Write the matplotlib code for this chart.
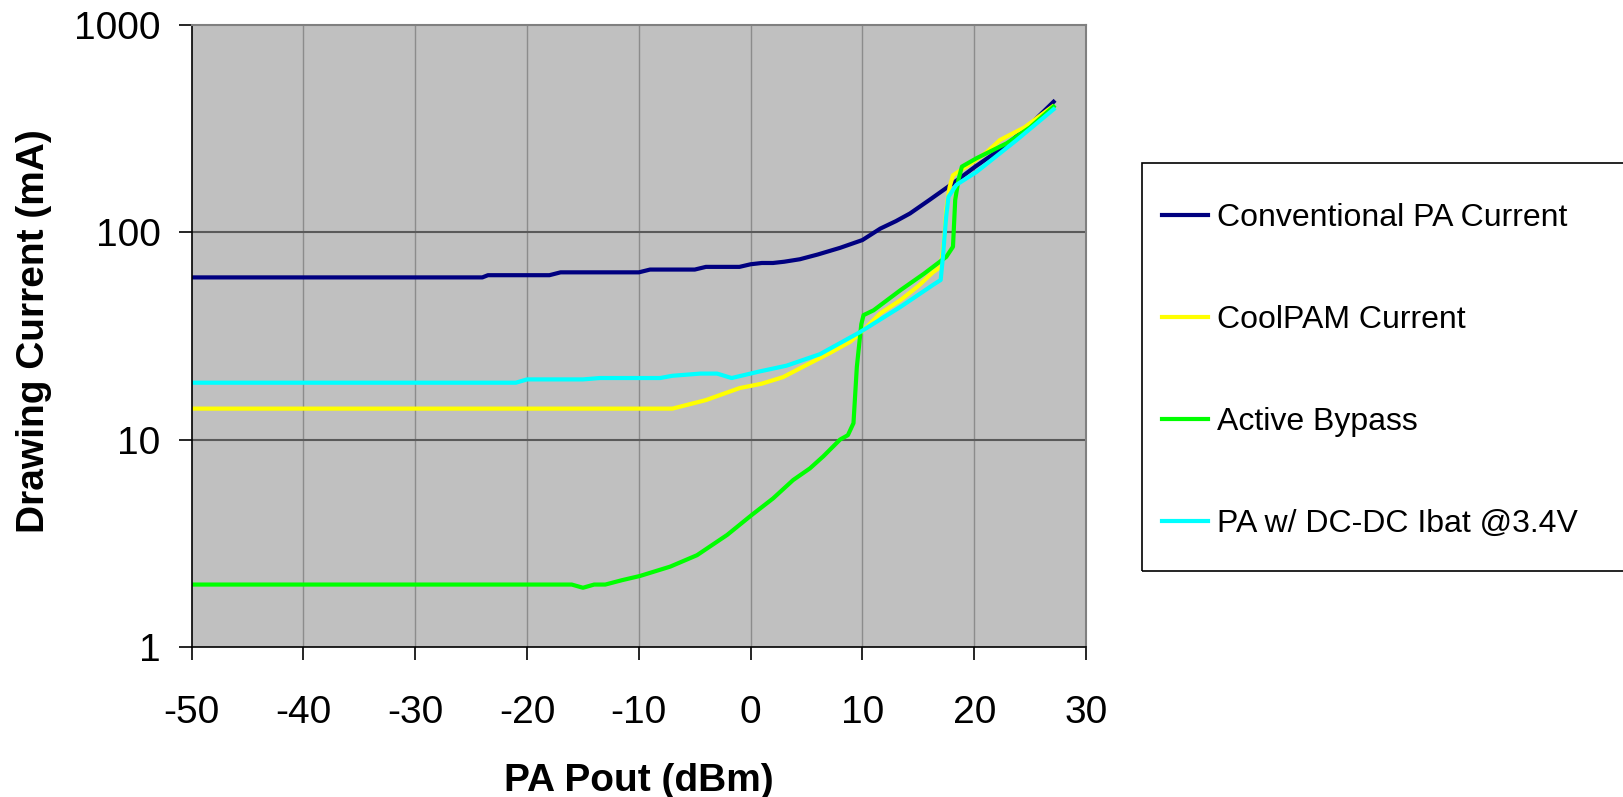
# PA drawing current vs output power

import matplotlib.pyplot as plt
from matplotlib.patches import Rectangle
from matplotlib.ticker import FixedLocator, NullLocator

plt.rcParams['font.family'] = ['Liberation Sans', 'DejaVu Sans']
plt.rcParams['axes.unicode_minus'] = False

conv_x = [-50, -24, -23.5, -18, -17, -10, -9, -5, -4, -1, 0, 1, 2, 3, 4.4, 6, 8, 10, 11.6, 13, 14.25, 16, 18.1, 20.1, 22.9, 25, 27.1]
conv_y = [60.5, 60.5, 62, 62, 64, 64, 66, 66, 68, 68, 70, 71, 71, 72, 74, 78, 84, 91.6, 104, 113, 123, 143, 172, 207, 263, 330, 425]

cool_x = [-50, -7, -4, -1, 1, 2.9, 5.0, 7, 8.9, 9.8, 11.6, 13.4, 15, 16.3, 17.0, 17.3, 17.5, 17.8, 18.1, 19.3, 21, 22.3, 24.5, 27.0]
cool_y = [14.1, 14.1, 15.5, 17.7, 18.6, 20, 22.9, 26, 29.6, 32.5, 40.6, 47, 55, 64, 68, 90, 128, 165, 188, 207, 240, 278, 320, 403]

bypass_x = [-50, -16, -15, -14, -13, -11.5, -9.9, -7.2, -4.8, -2.1, 0.1, 2, 3.8, 5.3, 6.5, 8.0, 8.7, 9.2, 9.5, 9.9, 10.1, 11.0, 13.4, 15.5, 17.5, 18.1, 18.3, 18.6, 18.9, 20.2, 22.9, 25, 27.1]
bypass_y = [2.0, 2.0, 1.93, 2.0, 2.0, 2.1, 2.2, 2.44, 2.77, 3.47, 4.33, 5.2, 6.38, 7.26, 8.3, 10.0, 10.5, 12, 22.4, 36, 39.8, 42, 52.5, 63, 76, 85, 143, 180, 207, 227, 268, 320, 403]

dcdc_x = [-50, -21, -20, -15, -13.5, -8.1, -7, -4.5, -3.0, -1.7, 0.8, 3.2, 6.2, 9.8, 13.4, 16.3, 17.0, 17.2, 17.5, 17.7, 18.4, 20.2, 23.8, 27.1]
dcdc_y = [18.8, 18.8, 19.5, 19.5, 19.8, 19.8, 20.3, 20.8, 20.8, 19.8, 21.3, 22.7, 25.8, 33, 43.6, 55.6, 58.8, 76, 120, 148, 169, 195, 278, 391]

labels = ["Conventional PA Current", "CoolPAM Current", "Active Bypass", "PA w/ DC-DC Ibat @3.4V"]
colors = ["#000080", "#FFFF00", "#00FF00", "#00FFFF"]

W, H = 1623, 797
fig = plt.figure(figsize=(W / 100, H / 100), dpi=100)
ax = fig.add_axes([191.7 / W, 1 - 647 / H, (1086 - 191.7) / W, (647 - 24.7) / H])
ax.set_facecolor("#C0C0C0")

series = [(conv_x, conv_y), (cool_x, cool_y), (bypass_x, bypass_y), (dcdc_x, dcdc_y)]
lines = []
for (xs, ys), lab, col in zip(series, labels, colors):
    ln, = ax.plot(xs, ys, color=col, lw=3.0, label=lab, solid_joinstyle="round")
    lines.append(ln)

ax.set_yscale("log")
ax.set_xlim(-50, 30)
ax.set_ylim(1, 1000)
ax.set_xticks(range(-50, 31, 10))
ax.yaxis.set_major_locator(FixedLocator([1, 10, 100, 1000]))
ax.yaxis.set_minor_locator(NullLocator())
ax.set_yticklabels(["1", "10", "100", "1000"])

for x in range(-40, 30, 10):
    ax.axvline(x, color="#8c8c8c", lw=1.0, zorder=0.5)
for y in [10, 100]:
    ax.axhline(y, color="#5a5a5a", lw=1.5, zorder=0.5)

ax.tick_params(axis="both", labelsize=28, length=9.5, width=1.2, direction="out", color="black")
ax.tick_params(axis="x", pad=25)
ax.tick_params(axis="y", pad=13)

ax.spines["left"].set_color("black")
ax.spines["bottom"].set_color("black")
ax.spines["left"].set_linewidth(1.2)
ax.spines["bottom"].set_linewidth(1.2)
ax.spines["top"].set_color("#808080")
ax.spines["right"].set_color("#808080")
ax.spines["top"].set_linewidth(1.5)
ax.spines["right"].set_linewidth(1.5)

ax.set_xlabel("PA Pout (dBm)", fontsize=28, fontweight="bold")
ax.set_ylabel("Drawing Current (mA)", fontsize=28, fontweight="bold")
ax.xaxis.set_label_coords(0.5, -(763 - 647) / (647 - 24.7))
ax.yaxis.set_label_coords((52 - 191.7) / (1086 - 191.7), 0.507)

# legend frame runs off the right edge like the original
fig.patches.append(Rectangle((1141.7 / W, 1 - 571 / H), 0.5, (571 - 163.3) / H,
                             transform=fig.transFigure, fill=False, edgecolor="black", lw=1.2))
leg = fig.legend(handles=lines, loc="center left", bbox_to_anchor=(1161.7 / W, 1 - 371 / H),
                 fontsize=23, frameon=False, handlelength=1.45, handletextpad=0.27,
                 labelspacing=2.25, borderpad=0, borderaxespad=0)
for h in leg.legend_handles:
    h.set_linewidth(3.0)

fig.savefig("out.png", dpi=100)
